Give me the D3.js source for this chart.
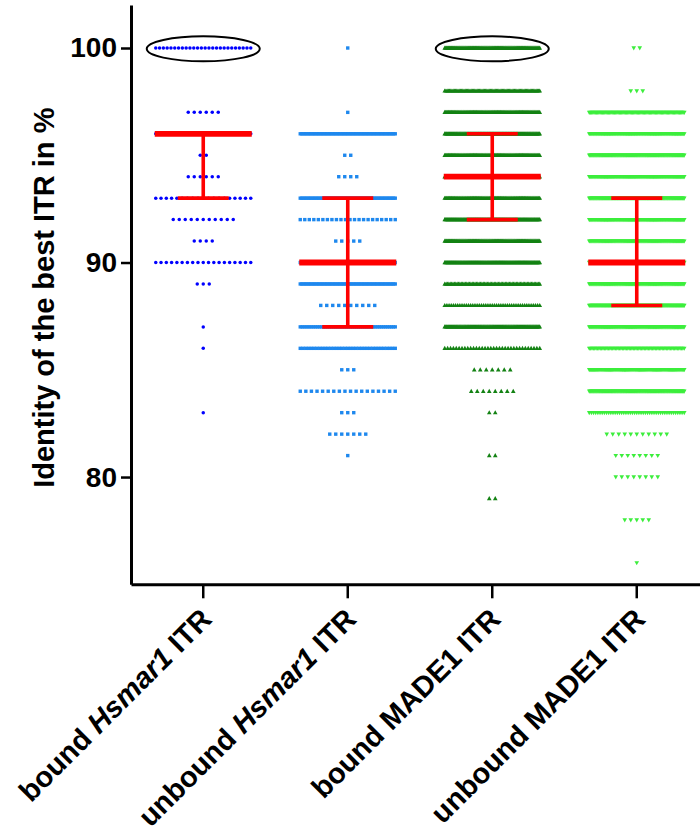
<!DOCTYPE html>
<html>
<head>
<meta charset="utf-8">
<script src="https://cdn.jsdelivr.net/npm/d3@7"></script>
<style>
  html, body { margin: 0; padding: 0; background: #fff; }
  svg { display: block; }
</style>
</head>
<body>
<script>
// ---------- data ----------
const categories = ["bound Hsmar1 ITR", "unbound Hsmar1 ITR", "bound MADE1 ITR", "unbound MADE1 ITR"];
const italicWords = ["Hsmar1"];

// identity values (rows) and number of elements at each value, per category
const boundHsmarValues   = [100, 97, 96, 95, 94, 93, 92, 91, 90, 89, 87, 86, 83];
const boundHsmarCounts   = [ 26,  6, 60,  2,  6, 19, 11,  4, 19,  3,  1,  1,  1];

const unboundHsmarValues = [100, 97, 96, 95, 94, 93, 92, 91, 90, 89, 88, 87, 86, 85, 84, 83, 82, 81];
const unboundHsmarCounts = [  1,  1, 60,  2,  4, 60, 22,  5, 60, 60, 10, 50, 35,  3, 18,  3,  7,  1];

const boundMadeValues    = [100, 98, 97, 96, 95, 94, 93, 92, 91, 90, 89, 88, 87, 86, 85, 84, 83, 81, 79];
const boundMadeCounts    = [100, 80,100,100,100,100,100,100,100,100, 70, 45,100, 34,  7,  8,  2,  2,  2];

const unboundMadeValues  = [100, 98, 97, 96, 95, 94, 93, 92, 91, 90, 89, 88, 87, 86, 85, 84, 83, 82, 81, 80, 78, 76];
const unboundMadeCounts  = [  2,  3, 80,100,100,100,100,100,100,100,100,100,100, 70, 90,100, 45, 11,  8,  8,  5,  1];

// median with interquartile range
const medians   = [96, 90, 94, 90];
const quartile1 = [93, 87, 92, 88];
const quartile3 = [96, 93, 96, 93];

// highlighted groups (circled at 100 %)
const highlighted = ["bound Hsmar1 ITR", "bound MADE1 ITR"];
const highlightValue = 100;

const yTicks = [80, 90, 100];
const yLabel = "Identity of the best ITR in %";

// ---------- layout ----------
const W = 700, H = 833;
const colors = ["#0000ff", "#1e88ee", "#138213", "#3cee3c"];
const seriesValues = [boundHsmarValues, unboundHsmarValues, boundMadeValues, unboundMadeValues];
const seriesCounts = [boundHsmarCounts, unboundHsmarCounts, boundMadeCounts, unboundMadeCounts];

const svg = d3.select("body").append("svg").attr("width", W).attr("height", H);

const x = d3.scaleBand().domain(categories).range([131, 709]).paddingInner(0).paddingOuter(0);
const y = d3.scaleLinear().domain([75, 102]).range([584.3, 5.1]);
const cx = c => x(c) + x.bandwidth() / 2;

const FONT = "'Liberation Sans', Arial, Helvetica, sans-serif";

// ---------- points ----------
const natural = 6, maxW = 95;
const points = [];
categories.forEach((c, i) => {
  seriesValues[i].forEach((v, j) => {
    const n = seriesCounts[i][j];
    const sp = n > 1 ? Math.min(natural, maxW / (n - 1)) : 0;
    for (let k = 0; k < n; k++) {
      points.push({ cat: c, idx: i, value: v, off: (k - (n - 1) / 2) * sp });
    }
  });
});

const gPts = svg.append("g");
const tri = (w, h, up) => up
  ? `M0,${-h * 0.6}L${w / 2},${h * 0.4}L${-w / 2},${h * 0.4}Z`
  : `M0,${h * 0.6}L${w / 2},${-h * 0.4}L${-w / 2},${-h * 0.4}Z`;

gPts.selectAll("circle").data(points.filter(p => p.idx === 0)).join("circle")
  .attr("cx", p => cx(p.cat) + p.off).attr("cy", p => y(p.value)).attr("r", 1.75)
  .attr("fill", colors[0]);
gPts.selectAll("rect").data(points.filter(p => p.idx === 1)).join("rect")
  .attr("x", p => cx(p.cat) + p.off - 1.7).attr("y", p => y(p.value) - 1.7)
  .attr("width", 3.4).attr("height", 3.4).attr("fill", colors[1]);
gPts.selectAll("path.up").data(points.filter(p => p.idx === 2)).join("path").attr("class", "up")
  .attr("transform", p => `translate(${cx(p.cat) + p.off},${y(p.value)})`)
  .attr("d", tri(4.6, 4.2, true)).attr("fill", colors[2]);
gPts.selectAll("path.down").data(points.filter(p => p.idx === 3)).join("path").attr("class", "down")
  .attr("transform", p => `translate(${cx(p.cat) + p.off},${y(p.value)})`)
  .attr("d", tri(4.6, 4.2, false)).attr("fill", colors[3]);

// ---------- median + IQR ----------
const gErr = svg.append("g").attr("stroke", "#ff0000");
categories.forEach((c, i) => {
  const xc = cx(c);
  gErr.append("line").attr("x1", xc).attr("x2", xc)
    .attr("y1", y(quartile1[i])).attr("y2", y(quartile3[i])).attr("stroke-width", 3.6);
  [quartile1[i], quartile3[i]].forEach(q => {
    gErr.append("line").attr("x1", xc - 25.5).attr("x2", xc + 25.5)
      .attr("y1", y(q)).attr("y2", y(q)).attr("stroke-width", 3.6);
  });
  gErr.append("line").attr("x1", xc - 48.5).attr("x2", xc + 48.5)
    .attr("y1", y(medians[i])).attr("y2", y(medians[i])).attr("stroke-width", 5.8);
});

// ---------- highlight ellipses ----------
svg.append("g").selectAll("ellipse").data(highlighted).join("ellipse")
  .attr("cx", c => cx(c)).attr("cy", y(highlightValue) + 0.8)
  .attr("rx", 56.5).attr("ry", 12.5)
  .attr("fill", "none").attr("stroke", "#000").attr("stroke-width", 2);

// ---------- axes ----------
const yAxis = svg.append("g").attr("transform", "translate(131,0)")
  .call(d3.axisLeft(y).tickValues(yTicks).tickSize(10).tickSizeOuter(0).tickPadding(4));
yAxis.select(".domain").attr("stroke-width", 3);
yAxis.selectAll(".tick line").attr("stroke-width", 2.5);
yAxis.selectAll(".tick text").attr("font-family", FONT).attr("font-weight", "bold")
  .attr("font-size", 28).attr("fill", "#000");

const xAxis = svg.append("g").attr("transform", `translate(0,${y(75)})`)
  .call(d3.axisBottom(x).tickSize(14).tickSizeOuter(0).tickFormat(""));
xAxis.select(".domain").attr("stroke-width", 3);
xAxis.selectAll(".tick line").attr("stroke-width", 2.5);
xAxis.selectAll(".tick text").remove();

// rotated category labels with italic gene names
const gLab = svg.append("g");
categories.forEach(c => {
  const t = gLab.append("text")
    .attr("transform", `translate(${cx(c) + 10},621) rotate(-45)`)
    .attr("text-anchor", "end")
    .attr("font-family", FONT).attr("font-weight", "bold").attr("font-size", 29).attr("fill", "#000");
  const re = new RegExp("(" + italicWords.join("|") + ")");
  c.split(re).filter(s => s.length).forEach(part => {
    t.append("tspan").text(part).attr("font-style", italicWords.includes(part) ? "italic" : "normal");
  });
});

// y label
svg.append("text")
  .attr("transform", `translate(54,${(y(102) + y(75)) / 2 + 3}) rotate(-90)`)
  .attr("text-anchor", "middle")
  .attr("font-family", FONT).attr("font-weight", "bold").attr("font-size", 29).attr("fill", "#000")
  .text(yLabel);
</script>
</body>
</html>
